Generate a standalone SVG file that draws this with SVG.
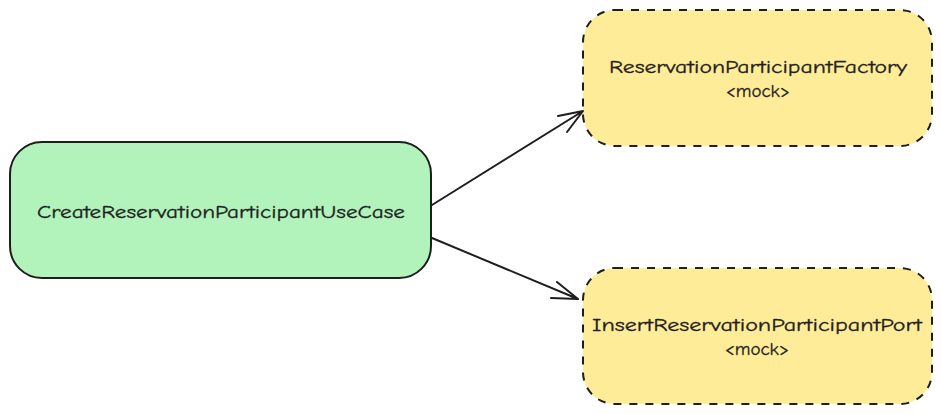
<svg xmlns="http://www.w3.org/2000/svg" width="941" height="414" viewBox="0 0 941 414">
<style>
.box{stroke:#1e1e1e;stroke-width:2;stroke-linejoin:round}
.main{fill:#b2f2bb}
.mock{fill:#ffec99;stroke-dasharray:8 8}
.lbl{font-family:"Comic Neue","Noto Sans","Liberation Sans",sans-serif;font-size:18px;fill:#1e1e1e;text-anchor:middle;stroke:#1e1e1e;stroke-width:0.3}
.edge{fill:none;stroke:#1e1e1e;stroke-width:2;stroke-linecap:round;stroke-linejoin:round}
</style>
<rect width="941" height="414" fill="#ffffff"/>
<g id="node-usecase">
<rect class="box main" x="10" y="142" width="421" height="136" rx="32" ry="32"/>
<text class="lbl" x="221" y="218" textLength="368" lengthAdjust="spacingAndGlyphs">CreateReservationParticipantUseCase</text>
</g>
<g id="node-factory">
<rect class="box mock" x="583" y="10" width="349" height="136" rx="32" ry="32"/>
<text class="lbl" x="758" y="73" textLength="298" lengthAdjust="spacingAndGlyphs">ReservationParticipantFactory</text>
<text class="lbl" x="758" y="97" textLength="64" lengthAdjust="spacingAndGlyphs">&lt;mock&gt;</text>
</g>
<g id="node-port">
<rect class="box mock" x="583" y="268" width="349" height="136" rx="32" ry="32"/>
<text class="lbl" x="757" y="331" textLength="330" lengthAdjust="spacingAndGlyphs">InsertReservationParticipantPort</text>
<text class="lbl" x="757" y="355" textLength="64" lengthAdjust="spacingAndGlyphs">&lt;mock&gt;</text>
</g>
<g id="connectors">
<path class="edge" d="M432 205 L583 111 M558 116 L583 111 L567 132"/>
<path class="edge" d="M432 238 L578 299 M551 298 L578 299 L557 282"/>
</g>
</svg>
